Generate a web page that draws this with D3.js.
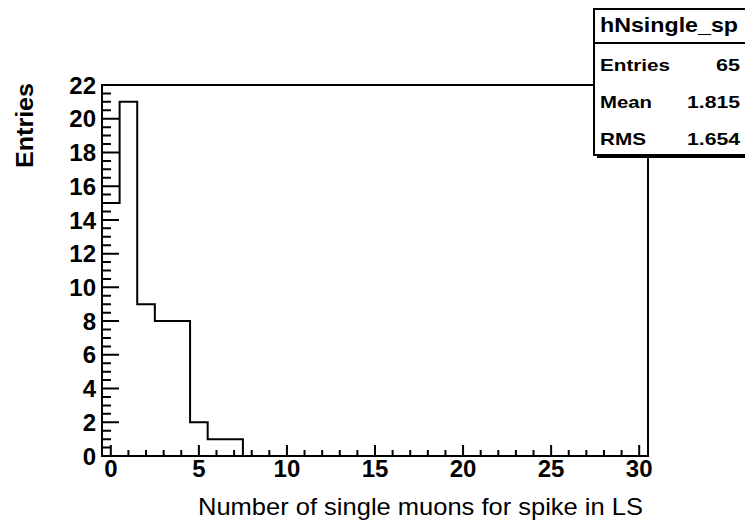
<!DOCTYPE html>
<html>
<head>
<meta charset="utf-8">
<script src="https://cdn.jsdelivr.net/npm/d3@7"></script>
<style>
  body { margin: 0; background: #fff; }
  svg { display: block; }
  text { font-family: "Liberation Sans", Arial, Helvetica, sans-serif; }
</style>
</head>
<body>
<svg id="chart"></svg>
<script>
var width = 745;
var height = 521;

// histogram hNsingle_sp : one bin per integer, 0..30
var binCenters = [0,1,2,3,4,5,6,7,8,9,10,11,12,13,14,15,16,17,18,19,20,21,22,23,24,25,26,27,28,29,30];
var counts     = [15,21,9,8,8,2,1,1,0,0,0,0,0,0,0,0,0,0,0,0,0,0,0,0,0,0,0,0,0,0,0];

var xMajor = [0,5,10,15,20,25,30];
var xMinor = [1,2,3,4,6,7,8,9,11,12,13,14,16,17,18,19,21,22,23,24,26,27,28,29];
var yMajor = [0,2,4,6,8,10,12,14,16,18,20,22];
var yMinor = [0.5,1,1.5,2.5,3,3.5,4.5,5,5.5,6.5,7,7.5,8.5,9,9.5,10.5,11,11.5,12.5,13,13.5,14.5,15,15.5,16.5,17,17.5,18.5,19,19.5,20.5,21,21.5];

var statsTitle = "hNsingle_sp";
var statsNames = ["Entries", "Mean", "RMS"];
var statsValues = ["65", "1.815", "1.654"];

var xTitle = "Number of single muons for spike in LS";
var yTitle = "Entries";

var fr = {left: 102, right: 648, top: 85, bottom: 456};

var svg = d3.select('#chart')
    .attr('width', width)
    .attr('height', height);

var x = d3.scaleLinear().domain([-0.5, 30.5]).range([fr.left, fr.right]);
var y = d3.scaleLinear().domain([0, 22]).range([fr.bottom, fr.top]);

// histogram outline
var pts = [[-0.5, 0]];
binCenters.forEach(function(c, i) {
    pts.push([c - 0.5, counts[i]]);
    pts.push([c + 0.5, counts[i]]);
});
pts.push([30.5, 0]);

svg.append('path')
    .attr('d', d3.line().x(function(d){return x(d[0]);}).y(function(d){return y(d[1]);})(pts))
    .attr('fill', 'none')
    .attr('stroke', 'black')
    .attr('stroke-width', 2);

// frame
svg.append('rect')
    .attr('x', fr.left).attr('y', fr.top)
    .attr('width', fr.right - fr.left).attr('height', fr.bottom - fr.top)
    .attr('fill', 'none').attr('stroke', 'black').attr('stroke-width', 2);

// ticks pointing inward like ROOT: each tick a small filled box
var tp = d3.path();
function tickBox(x0, y0, w, h) { tp.rect(x0, y0, w, h); }
xMinor.forEach(function(d){ tickBox(x(d) - 1, fr.bottom - 6, 2, 6); });
xMajor.forEach(function(d){ tickBox(x(d) - 1, fr.bottom - 11, 2, 11); });
yMinor.forEach(function(d){ tickBox(fr.left, y(d) - 1, 9, 2); });
yMajor.forEach(function(d){ tickBox(fr.left, y(d) - 1, 17, 2); });

svg.append('path')
    .attr('class', 'ticks')
    .attr('d', tp.toString())
    .attr('fill', 'black');

svg.append('g').selectAll('text')
    .data(xMajor)
  .enter().append('text')
    .attr('x', function(d){ return x(d); })
    .attr('y', 477)
    .attr('text-anchor', 'middle')
    .style('font-size', '24px').style('font-weight', 'bold')
    .text(function(d){ return d; });

svg.append('g').selectAll('text')
    .data(yMajor)
  .enter().append('text')
    .attr('x', 96)
    .attr('y', function(d){ return y(d); })
    .attr('dy', '0.36em')
    .attr('text-anchor', 'end')
    .style('font-size', '24px').style('font-weight', 'bold')
    .text(function(d){ return d; });

// axis titles
svg.append('text')
    .attr('x', 643).attr('y', 515)
    .attr('text-anchor', 'end')
    .attr('textLength', 445).attr('lengthAdjust', 'spacingAndGlyphs')
    .style('font-size', '24px')
    .text(xTitle);

svg.append('text')
    .attr('transform', 'translate(33,83) rotate(-90)')
    .attr('text-anchor', 'end')
    .attr('textLength', 85).attr('lengthAdjust', 'spacingAndGlyphs')
    .style('font-size', '23px').style('font-weight', 'bold')
    .text(yTitle);

// stats box with shadow and header separator
var box = {x: 594, y: 9, w: 160, h: 146, head: 34};
svg.append('rect')
    .attr('x', box.x + 3).attr('y', box.y + 3)
    .attr('width', box.w).attr('height', box.h)
    .attr('fill', 'black');
svg.append('rect')
    .attr('x', box.x).attr('y', box.y)
    .attr('width', box.w).attr('height', box.h)
    .attr('fill', 'white').attr('stroke', 'black').attr('stroke-width', 2);
svg.append('rect')
    .attr('x', box.x).attr('y', box.y + box.head - 1)
    .attr('width', box.w).attr('height', 2)
    .attr('fill', 'black');

svg.append('text')
    .attr('x', 600).attr('y', 32)
    .attr('textLength', 138).attr('lengthAdjust', 'spacingAndGlyphs')
    .style('font-size', '21px').style('font-weight', 'bold')
    .text(statsTitle);

var rowY = d3.scalePoint().domain(statsNames).range([71, 145]);
var nameLen = {"Entries": 70, "Mean": 52, "RMS": 46};
var valLen = {"65": 24, "1.815": 53, "1.654": 53};

svg.append('g').selectAll('text')
    .data(statsNames)
  .enter().append('text')
    .attr('x', 600)
    .attr('y', function(d){ return rowY(d); })
    .attr('textLength', function(d){ return nameLen[d]; })
    .attr('lengthAdjust', 'spacingAndGlyphs')
    .style('font-size', '17px').style('font-weight', 'bold')
    .text(function(d){ return d; });

svg.append('g').selectAll('text')
    .data(statsValues)
  .enter().append('text')
    .attr('x', 740)
    .attr('y', function(d, i){ return rowY(statsNames[i]); })
    .attr('text-anchor', 'end')
    .attr('textLength', function(d){ return valLen[d]; })
    .attr('lengthAdjust', 'spacingAndGlyphs')
    .style('font-size', '17px').style('font-weight', 'bold')
    .text(function(d){ return d; });
</script>
</body>
</html>
